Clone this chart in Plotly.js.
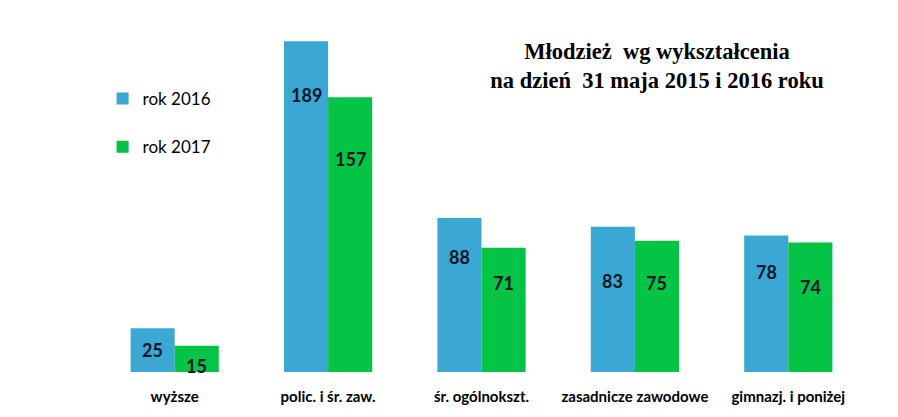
<!DOCTYPE html>
<html><head><meta charset="utf-8">
<script src="https://cdn.plot.ly/plotly-3.0.1.min.js"></script>
<style>html,body{margin:0;padding:0;background:#fff}</style>
</head><body>
<div id="chart" style="width:898px;height:417px"></div>
<script>
const categories = ['wyższe', 'polic. i śr. zaw.', 'śr. ogólnokszt.', 'zasadnicze zawodowe', 'gimnazj. i poniżej'];
const series2016 = [25, 189, 88, 83, 78];
const series2017 = [15, 157, 71, 75, 74];
const seriesNames = ['rok 2016', 'rok 2017'];
const titleText = 'Młodzież  wg wykształcenia<br>na dzień  31 maja 2015 i 2016 roku';

// style constants (pixel drops of value labels below bar tops)
const drop2016 = [22, 54, 39, 54, 36];
const drop2017 = [20, 62, 35, 42, 44];
const colors = ['#3aa8d2', '#03c444'];
const bargap = 0.425;
const half = (1 - bargap) / 4;

const traces = [
  {type:'bar', x: categories, y: series2016, name: seriesNames[0], marker:{color:colors[0]}, legendgroup:'a', hoverinfo:'none'},
  {type:'bar', x: categories, y: series2017, name: seriesNames[1], marker:{color:colors[1]}, legendgroup:'b', hoverinfo:'none'}
];

const annotations = [];
categories.forEach((c, i) => {
  annotations.push({x: i - half, y: series2016[i], xref:'x', yref:'y', text: String(series2016[i]), showarrow:false,
    yanchor:'middle', yshift: -drop2016[i], font:{family:'Lato, sans-serif', size:18, color:'#0b1628', weight:'bold'}});
  annotations.push({x: i + half, y: series2017[i], xref:'x', yref:'y', text: String(series2017[i]), showarrow:false,
    yanchor:'middle', yshift: -drop2017[i], font:{family:'Lato, sans-serif', size:18, color:'#0b1628', weight:'bold'}});
});

const layout = {
  width: 898, height: 417,
  margin: {l: 98, r: 33, t: 22, b: 45},
  paper_bgcolor: '#fff', plot_bgcolor: '#fff',
  barmode: 'group', bargap: bargap, bargroupgap: 0,
  title: {text: titleText, x: 0.7316, xanchor: 'center', xref:'container', y: 1 - 59/417, yanchor: 'top', yref:'container',
    automargin:false,
    font: {family: '"Liberation Serif", "Times New Roman", serif', size: 22.5, color: '#000', weight: 'bold'}},
  xaxis: {type:'category', showgrid:false, zeroline:false, showline:false, ticks:'outside', ticklen: 11, tickcolor:'rgba(0,0,0,0)',
    tickfont: {family:'Lato, sans-serif', size: 15, color:'#000', weight:'bold'}, range:[-0.5, 4.5], fixedrange:true, automargin:false},
  yaxis: {range:[0, 200], showgrid:false, zeroline:false, showline:false, showticklabels:false, ticks:'', fixedrange:true, automargin:false},
  showlegend: true,
  legend: {x: 0.006, xref:'paper', xanchor:'left', y: 1 - (81-22)/350, yref:'paper', yanchor:'top',
    font:{family:'Lato, sans-serif', size:17, color:'#000'}, tracegroupgap: 23, bgcolor:'rgba(0,0,0,0)', traceorder:'grouped'},
  annotations: annotations
};

Plotly.newPlot('chart', traces, layout, {displayModeBar:false, staticPlot:true});
</script>
</body></html>
